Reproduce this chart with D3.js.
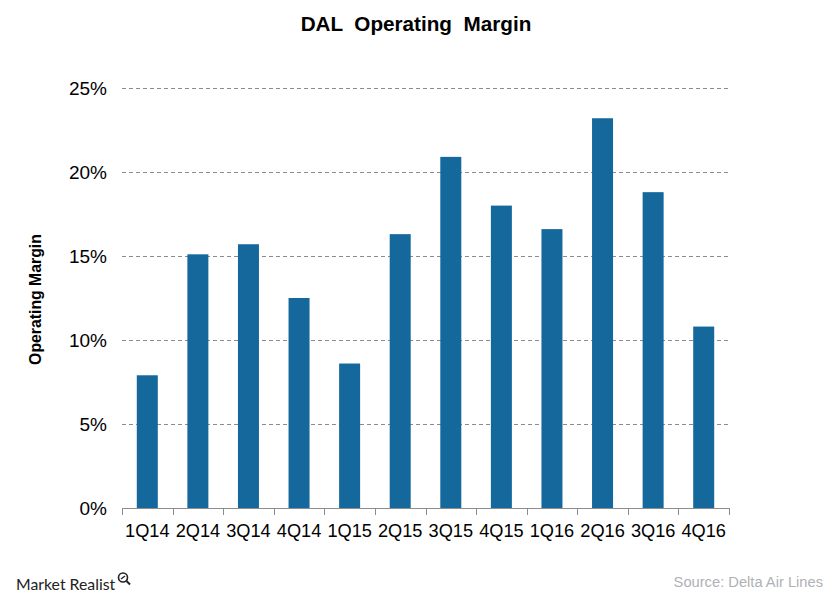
<!DOCTYPE html>
<html><head><meta charset="utf-8">
<script src="https://cdnjs.cloudflare.com/ajax/libs/d3/7.8.5/d3.min.js"></script>
<style>html,body{margin:0;padding:0;background:#fff}svg{display:block}text{font-family:"Liberation Sans",Arial,sans-serif}</style>
</head><body><svg id="c" width="833" height="601"></svg>
<script>
const categories=["1Q14","2Q14","3Q14","4Q14","1Q15","2Q15","3Q15","4Q15","1Q16","2Q16","3Q16","4Q16"];
const margins=[7.9,15.1,15.7,12.5,8.6,16.3,20.9,18.0,16.6,23.2,18.8,10.8];
const yTicks=[0,5,10,15,20,25];
const title="DAL  Operating  Margin";
const yTitle="Operating Margin";
const source="Source: Delta Air Lines";
const brand="Market Realist";
const svg=d3.select("#c");
const band=d3.scaleBand().domain(categories).range([122,729]);
const y=d3.scaleLinear().domain([0,25]).range([508,88]);
svg.append("g").selectAll("line").data(yTicks.filter(d=>d>0)).join("line")
 .attr("x1",122).attr("x2",729).attr("y1",d=>y(d)+.5).attr("y2",d=>y(d)+.5)
 .attr("stroke","#8c8c8c").attr("stroke-dasharray","4 3");
svg.append("g").selectAll("rect").data(margins).join("rect")
 .attr("x",(d,i)=>band(categories[i])+band.bandwidth()/2-10.5).attr("width",21)
 .attr("y",d=>y(d)).attr("height",d=>508-y(d)).attr("fill","#15689c");
const ax=svg.append("g").attr("transform","translate(0,508)");
ax.append("line").attr("x1",122).attr("x2",729).attr("y1",.5).attr("y2",.5).attr("stroke","#8c8c8c");
const edges=categories.map(c=>band(c)).concat([729]);
ax.selectAll("line.t").data(edges).join("line").attr("class","t")
 .attr("x1",d=>Math.round(d)+.5).attr("x2",d=>Math.round(d)+.5).attr("y1",0).attr("y2",7).attr("stroke","#8c8c8c");
svg.append("g").selectAll("text").data(categories).join("text")
 .attr("x",d=>band(d)+band.bandwidth()/2).attr("y",537).attr("text-anchor","middle")
 .attr("font-size",18.2).attr("fill","#000").text(d=>d);
svg.append("g").selectAll("text").data(yTicks).join("text")
 .attr("x",107).attr("y",d=>y(d)+6.5).attr("text-anchor","end")
 .attr("font-size",19).attr("fill","#000").text(d=>d+"%");
svg.append("text").attr("x",416).attr("y",31).attr("text-anchor","middle")
 .attr("font-size",20.7).attr("font-weight","bold").style("white-space","pre").text(title);
svg.append("text").attr("transform","translate(41,299.5) rotate(-90)").attr("text-anchor","middle")
 .attr("font-size",15.8).attr("font-weight","bold").text(yTitle);
svg.append("text").attr("x",823).attr("y",587).attr("text-anchor","end")
 .attr("font-size",14.7).attr("fill","#b0b0b6").text(source);
svg.append("text").attr("x",16).attr("y",590).attr("font-size",15.8).attr("fill","#222")
 .style("font-family","Lato, sans-serif").text(brand);
const m=svg.append("g").attr("fill","none").attr("stroke","#222");
m.append("circle").attr("cx",123).attr("cy",577.5).attr("r",4.5).attr("stroke-width",1.6);
m.append("line").attr("x1",126.5).attr("y1",581).attr("x2",130).attr("y2",584.5).attr("stroke-width",2);
m.append("line").attr("x1",121).attr("y1",579).attr("x2",125).attr("y2",576).attr("stroke-width",1.4);
</script></body></html>
